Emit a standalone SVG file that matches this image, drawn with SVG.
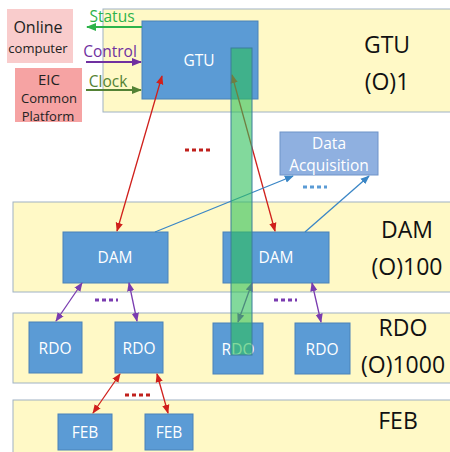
<svg xmlns="http://www.w3.org/2000/svg" width="450" height="452" viewBox="0 0 450 452">
<defs>
<style>
.band{fill:#fff9c6;stroke:#9fb2c4;stroke-width:1}
.node{fill:#5b9bd5;stroke:#4a82b8;stroke-width:1}
.nt{font-family:"Open Sans","Liberation Sans",sans-serif;font-size:15.5px;fill:#ffffff;text-anchor:middle}
.bt{font-family:"Open Sans","Liberation Sans",sans-serif;font-size:23px;fill:#111111;text-anchor:middle}
.lt{font-family:"Open Sans","Liberation Sans",sans-serif;text-anchor:middle;fill:#222}
.sig{font-family:"Open Sans","Liberation Sans",sans-serif;font-size:15.5px;text-anchor:middle}
.red{stroke:#d0201c;stroke-width:1.3;fill:none}
.pur{stroke:#7a3cb0;stroke-width:1.3;fill:none}
.blu{stroke:#3a86c6;stroke-width:1.3;fill:none}
</style>
<marker id="ar" viewBox="0 0 10 10" refX="9" refY="5" markerWidth="7" markerHeight="7" orient="auto-start-reverse"><path d="M0,1 L10,5 L0,9 z" fill="#d0201c"/></marker>
<marker id="ap" viewBox="0 0 10 10" refX="9" refY="5" markerWidth="7" markerHeight="7" orient="auto-start-reverse"><path d="M0,1 L10,5 L0,9 z" fill="#7a3cb0"/></marker>
<marker id="ab" viewBox="0 0 10 10" refX="9" refY="5" markerWidth="7" markerHeight="7" orient="auto"><path d="M0,1 L10,5 L0,9 z" fill="#3a86c6"/></marker>
<marker id="ag" viewBox="0 0 10 10" refX="9" refY="5" markerWidth="5" markerHeight="5" orient="auto"><path d="M0,1 L10,5 L0,9 z" fill="#2db34a"/></marker>
<marker id="apc" viewBox="0 0 10 10" refX="9" refY="5" markerWidth="5" markerHeight="5" orient="auto"><path d="M0,1 L10,5 L0,9 z" fill="#7030a0"/></marker>
<marker id="ao" viewBox="0 0 10 10" refX="9" refY="5" markerWidth="5" markerHeight="5" orient="auto"><path d="M0,1 L10,5 L0,9 z" fill="#548235"/></marker>
</defs>
<rect width="450" height="452" fill="#ffffff"/>

<g id="bands">
<rect class="band" x="103" y="9" width="360" height="103"/>
<rect class="band" x="13" y="202" width="450" height="90"/>
<rect class="band" x="13" y="313" width="450" height="70"/>
<rect class="band" x="13" y="400" width="450" height="60"/>
<text class="bt" x="387" y="53">GTU</text>
<text class="bt" x="387" y="90">(O)1</text>
<text class="bt" x="407" y="238">DAM</text>
<text class="bt" x="407" y="275">(O)100</text>
<text class="bt" x="403" y="336">RDO</text>
<text class="bt" x="403" y="373">(O)1000</text>
<text class="bt" x="398" y="429">FEB</text>
</g>

<g id="online">
<rect x="7" y="9" width="66" height="54" fill="#f9cccc"/>
<text class="lt" x="38" y="33" font-size="16">Online</text>
<text class="lt" x="38" y="53" font-size="13">computer</text>
</g>
<g id="eic">
<rect x="15" y="68" width="67" height="54" fill="#f6a3a3"/>
<text class="lt" x="49" y="85" font-size="15">EIC</text>
<text class="lt" x="49" y="103" font-size="13">Common</text>
<text class="lt" x="48" y="121" font-size="13">Platform</text>
</g>

<g id="gtu"><rect class="node" x="142" y="21" width="116" height="78"/><text class="nt" x="199" y="66">GTU</text></g>
<g id="daq"><rect x="280" y="132" width="98" height="43" fill="#8fb0e0" stroke="#6f93c8"/><text class="nt" x="329" y="149" fill="#eef3fb">Data</text><text class="nt" x="329" y="171">Acquisition</text></g>
<g id="dam1"><rect class="node" x="63" y="232" width="105" height="51"/><text class="nt" x="115" y="263">DAM</text></g>
<g id="dam2"><rect class="node" x="223" y="232" width="106" height="51"/><text class="nt" x="276" y="263">DAM</text></g>
<g id="rdo1"><rect class="node" x="29" y="322" width="53" height="51"/><text class="nt" x="55" y="354">RDO</text></g>
<g id="rdo2"><rect class="node" x="115" y="322" width="48" height="51"/><text class="nt" x="139" y="354">RDO</text></g>
<g id="rdo3"><rect class="node" x="213" y="323" width="50" height="51"/><text class="nt" x="238" y="355">RDO</text></g>
<g id="rdo4"><rect class="node" x="295" y="323" width="55" height="51"/><text class="nt" x="322" y="355">RDO</text></g>
<g id="feb1"><rect class="node" x="58" y="414" width="54" height="36"/><text class="nt" x="85" y="438">FEB</text></g>
<g id="feb2"><rect class="node" x="145" y="414" width="48" height="36"/><text class="nt" x="169" y="438">FEB</text></g>

<g id="connectors">
<line x1="142" y1="27" x2="87" y2="27" stroke="#2db34a" stroke-width="2" marker-end="url(#ag)"/>
<text class="sig" x="112" y="22" fill="#2db34a">Status</text>
<line x1="86" y1="62" x2="141" y2="62" stroke="#7030a0" stroke-width="2" marker-end="url(#apc)"/>
<text class="sig" x="110" y="57" fill="#7030a0">Control</text>
<line x1="86" y1="90" x2="141" y2="90" stroke="#548235" stroke-width="2" marker-end="url(#ao)"/>
<text class="sig" x="108" y="87" fill="#548235">Clock</text>

<line class="red" x1="162" y1="76" x2="117" y2="231" marker-start="url(#ar)" marker-end="url(#ar)"/>
<line class="red" x1="232" y1="75" x2="275" y2="231" marker-start="url(#ar)" marker-end="url(#ar)"/>
<line class="blu" x1="155" y1="232" x2="293" y2="176" marker-end="url(#ab)"/>
<line class="blu" x1="305" y1="232" x2="369" y2="176" marker-end="url(#ab)"/>
<line class="pur" x1="82" y1="283" x2="56" y2="321" marker-start="url(#ap)" marker-end="url(#ap)"/>
<line class="pur" x1="129" y1="283" x2="137" y2="321" marker-start="url(#ap)" marker-end="url(#ap)"/>
<line class="pur" x1="252" y1="283" x2="238" y2="322" marker-start="url(#ap)" marker-end="url(#ap)"/>
<line class="pur" x1="312" y1="283" x2="321" y2="322" marker-start="url(#ap)" marker-end="url(#ap)"/>
<line class="red" x1="120" y1="374" x2="93" y2="413" marker-start="url(#ar)" marker-end="url(#ar)"/>
<line class="red" x1="157" y1="374" x2="168" y2="413" marker-start="url(#ar)" marker-end="url(#ar)"/>
</g>

<g id="dots">
<line x1="185" y1="150" x2="210" y2="150" stroke="#c0201c" stroke-width="3" stroke-dasharray="4,3"/>
<line x1="303" y1="187" x2="327" y2="187" stroke="#5b9bd5" stroke-width="3" stroke-dasharray="4,3"/>
<line x1="95" y1="300" x2="118" y2="300" stroke="#7a3cb0" stroke-width="3" stroke-dasharray="4,3"/>
<line x1="274" y1="300" x2="297" y2="300" stroke="#7a3cb0" stroke-width="3" stroke-dasharray="4,3"/>
<line x1="125" y1="395" x2="150" y2="395" stroke="#c0201c" stroke-width="3" stroke-dasharray="4,3"/>
</g>

<g id="bar">
<rect x="231" y="48" width="21" height="307" fill="#2fbf5a" fill-opacity="0.6" stroke="#3a7f9a" stroke-width="1"/>
</g>
</svg>
